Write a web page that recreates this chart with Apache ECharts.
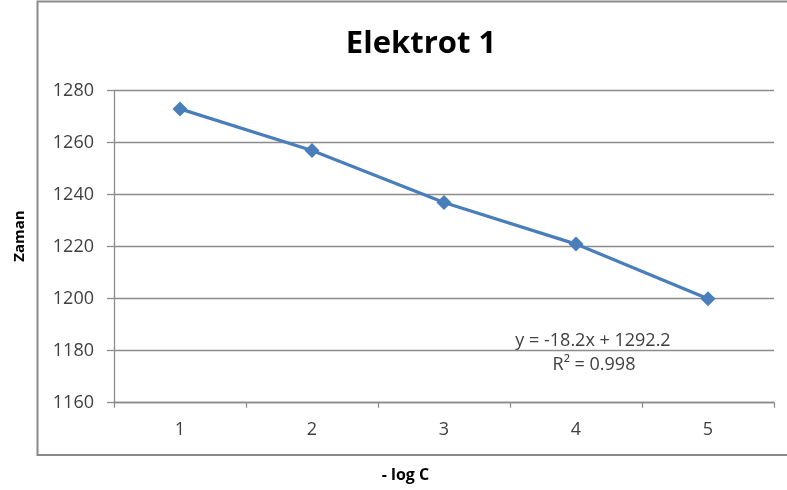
<!DOCTYPE html>
<html>
<head>
<meta charset="utf-8">
<script src="https://cdn.jsdelivr.net/npm/echarts@6/dist/echarts.min.js"></script>
<style>
html,body{margin:0;padding:0;background:#fff;}
#chart{width:787px;height:490px;}
</style>
</head>
<body>
<div id="chart"></div>
<script>
const categories = ['1', '2', '3', '4', '5'];
const zaman = [1273, 1257, 1237, 1221, 1200];
const yTicks = { min: 1160, max: 1280, interval: 20 };
const titleText = 'Elektrot 1';
const xName = '- log C';
const yName = 'Zaman';
const trendLines = ['y = -18.2x + 1292.2', 'R² = 0.998'];

const font = '"Open Sans", "Liberation Sans", sans-serif';
const chart = echarts.init(document.getElementById('chart'), null, { renderer: 'canvas' });
chart.setOption({
  backgroundColor: '#ffffff',
  animation: false,
  title: {
    text: titleText,
    left: 416, top: 24, textAlign: 'center',
    textStyle: { fontFamily: font, fontSize: 31, fontWeight: 'bold', color: '#000000' }
  },
  grid: { left: 114, right: 13, top: 90.7, bottom: 87.3, containLabel: false },
  xAxis: {
    type: 'category',
    data: categories,
    boundaryGap: true,
    axisLine: { show: true, lineStyle: { color: '#8c8c8c', width: 1.3 } },
    axisTick: { show: true, length: 5, lineStyle: { color: '#8c8c8c', width: 1.3 } },
    axisLabel: { margin: 18, fontFamily: font, fontSize: 18, color: '#404040' },
    splitLine: { show: false }
  },
  yAxis: {
    type: 'value',
    min: yTicks.min, max: yTicks.max, interval: yTicks.interval,
    axisLine: { show: true, lineStyle: { color: '#8c8c8c', width: 1.3 } },
    axisTick: { show: true, length: 7, lineStyle: { color: '#8c8c8c', width: 1.3 } },
    axisLabel: { margin: 20, fontFamily: font, fontSize: 18, color: '#404040', formatter: v => String(v) },
    splitLine: { show: true, lineStyle: { color: '#8c8c8c', width: 1.3 } }
  },
  graphic: [
    { type: 'rect', shape: { x: 37.5, y: 1.5, width: 800, height: 453.5 },
      style: { fill: 'none', stroke: '#8a8a8a', lineWidth: 2 }, z: -1 },
    { type: 'text', x: 19.5, y: 236, rotation: Math.PI / 2,
      style: { text: yName, fontFamily: font, fontSize: 15, fontWeight: 'bold', fill: '#000', align: 'center', verticalAlign: 'middle' } },
    { type: 'text', x: 405.5, y: 475,
      style: { text: xName, fontFamily: font, fontSize: 16, fontWeight: 'bold', fill: '#000', align: 'center', verticalAlign: 'middle' } },
    { type: 'text', x: 593, y: 341,
      style: { text: trendLines[0], fontFamily: font, fontSize: 18, fill: '#404040', align: 'center', verticalAlign: 'middle' } },
    { type: 'text', x: 594, y: 365,
      style: { text: trendLines[1], fontFamily: font, fontSize: 18, fill: '#404040', align: 'center', verticalAlign: 'middle' } }
  ],
  series: [{
    type: 'line',
    data: zaman,
    symbol: 'diamond',
    symbolSize: 15,
    lineStyle: { color: '#4a7ebb', width: 3.2 },
    itemStyle: { color: '#4a7ebb' },
    z: 3
  }]
});
</script>
</body>
</html>
